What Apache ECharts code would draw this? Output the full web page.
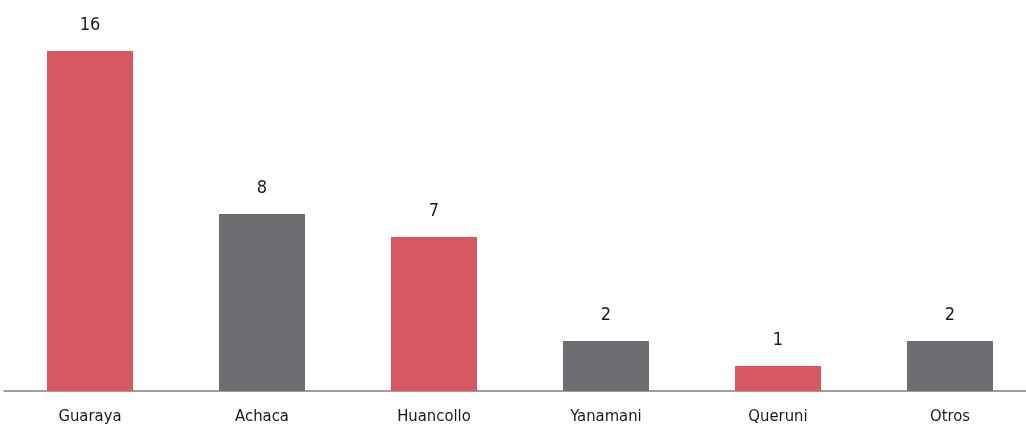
<!DOCTYPE html>
<html><head><meta charset="utf-8">
<script src="https://cdn.jsdelivr.net/npm/echarts@6/dist/echarts.min.js"></script>
<style>html,body{margin:0;padding:0;background:#fff}#c{width:1026px;height:429px}</style>
</head><body><div id="c"></div>
<script>
const categories = ['Guaraya', 'Achaca', 'Huancollo', 'Yanamani', 'Queruni', 'Otros'];
const values = [15.45, 8.05, 7.0, 2.27, 1.14, 2.27];
const valueLabels = ['16', '8', '7', '2', '1', '2'];
const barColors = ['#D95763', '#6D6E71', '#D95763', '#6D6E71', '#D95763', '#6D6E71'];

const font = '"DejaVu Sans Condensed", "Liberation Sans Narrow", "Noto Sans", sans-serif';
const chart = echarts.init(document.getElementById('c'), null, {renderer: 'canvas'});
chart.setOption({
  animation: false,
  grid: {left: 4, width: 1032, top: 17, bottom: 38, containLabel: false, outerBoundsMode: 'none'},
  xAxis: {
    type: 'category', data: categories,
    axisLine: {show: true, lineStyle: {color: '#7f7f7f', width: 1.5}},
    axisTick: {show: false},
    axisLabel: {color: '#1a1a1a', fontSize: 16.5, fontFamily: font, margin: 17}
  },
  yAxis: {type: 'value', min: 0, max: 17, show: false, splitLine: {show: false}},
  series: [{
    type: 'bar', barWidth: '50%',
    data: values.map((v, i) => ({value: v, itemStyle: {color: barColors[i]}})),
    label: {
      show: true, position: 'top', distance: 17, color: '#1a1a1a', fontSize: 18, fontFamily: font,
      formatter: p => valueLabels[p.dataIndex]
    }
  }]
});
</script></body></html>
